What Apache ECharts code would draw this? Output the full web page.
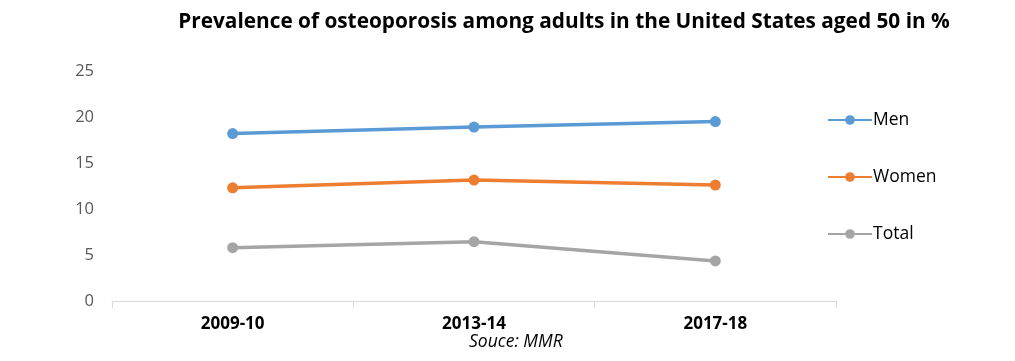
<!DOCTYPE html>
<html>
<head>
<meta charset="utf-8">
<script src="https://cdn.jsdelivr.net/npm/echarts@6/dist/echarts.min.js"></script>
<style>html,body{margin:0;padding:0;background:#fff}#c{width:1015px;height:361px}</style>
</head>
<body>
<div id="c"></div>
<script>
const categories = ['2009-10', '2013-14', '2017-18'];
const men = [18.2, 18.9, 19.5];
const women = [12.3, 13.15, 12.6];
const total = [5.8, 6.45, 4.35];
const yTicks = [0, 5, 10, 15, 20, 25];

const chart = echarts.init(document.getElementById('c'));
function s(name, data, color) {
  return {
    name, type: 'line', data,
    symbol: 'circle', symbolSize: 11,
    lineStyle: { width: 3.5, color },
    itemStyle: { color },
    emphasis: { disabled: true },
    animation: false
  };
}
chart.setOption({
  animation: false,
  title: {
    text: 'Prevalence of osteoporosis among adults in the United States aged 50 in %',
    left: 559, top: 7, textAlign: 'center',
    textStyle: { fontFamily: 'Open Sans', fontWeight: 'bold', fontSize: 20.8, color: '#000' }
  },
  graphic: [{
    type: 'text', left: 469, top: 333,
    style: { text: 'Souce: MMR', font: 'italic 17.5px "Open Sans"', fill: '#000' }
  }],
  legend: {
    orient: 'vertical', left: 822, top: 106,
    itemGap: 39, itemWidth: 44, itemHeight: 12,
    textStyle: { fontFamily: 'Open Sans', fontSize: 17.5, color: '#000', padding: [0, 0, 0, -4] },
    data: ['Men', 'Women', 'Total']
  },
  grid: { left: 112, right: 179, top: 71, bottom: 60 },
  xAxis: {
    type: 'category', data: categories, boundaryGap: true,
    axisLine: { lineStyle: { color: '#d9d9d9', width: 1 } },
    axisTick: { show: true, length: 7, lineStyle: { color: '#d9d9d9' } },
    axisLabel: { fontFamily: 'Open Sans', fontWeight: 'bold', fontSize: 17, color: '#000', margin: 15 }
  },
  yAxis: {
    type: 'value', min: yTicks[0], max: yTicks[yTicks.length - 1], interval: 5,
    splitLine: { show: false },
    axisLine: { show: false }, axisTick: { show: false },
    axisLabel: { fontFamily: 'Open Sans', fontSize: 16.5, color: '#595959', margin: 18 }
  },
  series: [s('Men', men, '#5B9BD5'), s('Women', women, '#ED7D31'), s('Total', total, '#A5A5A5')]
});
</script>
</body>
</html>
